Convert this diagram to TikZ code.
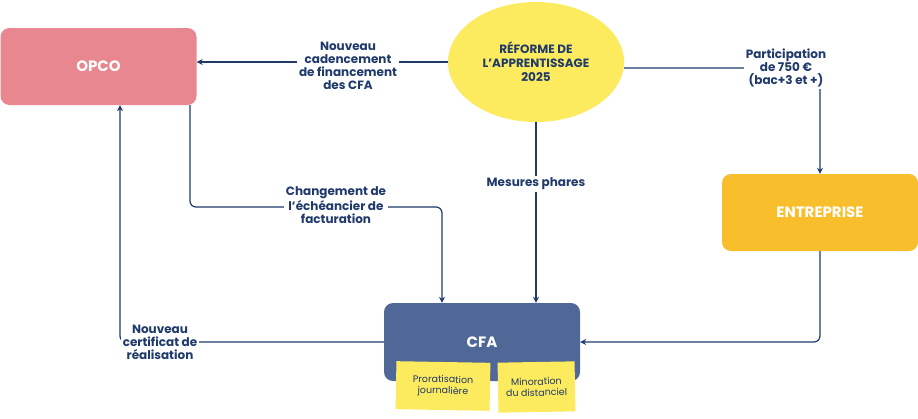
\documentclass[tikz,border=0pt]{standalone}
\usepackage{fontspec}
\setmainfont{Poppins}
\usetikzlibrary{shapes.geometric,arrows.meta}
\definecolor{navy}{HTML}{1F3A6B}
\definecolor{pinkc}{HTML}{E8878F}
\definecolor{yel}{HTML}{FDEB5F}
\definecolor{orng}{HTML}{F9BE2C}
\definecolor{cfab}{HTML}{4F6898}
\tikzset{
  box/.style={draw=none,rounded corners=9pt,minimum width=196pt,minimum height=77pt,text=white,font=\bfseries\fontsize{15}{18}\selectfont},
  lbl/.style={fill=white,text=navy,align=center,font=\bfseries\fontsize{12}{13}\selectfont,inner sep=2pt},
  con/.style={draw=navy,line width=1.2pt,-{Stealth[length=6pt,width=6pt]},rounded corners=6pt},
  note/.style={fill=yel,text=navy,align=center,font=\fontsize{9.5}{11}\selectfont,inner sep=2pt}
}
\begin{document}
\begin{tikzpicture}[x=1pt,y=-1pt]
\useasboundingbox (0,0) rectangle (918,418);
\node[box,fill=pinkc] (opco) at (98.5,66.5) {OPCO};
\node[box,fill=orng] (ent) at (820,212.5) {ENTREPRISE};
\node[box,fill=cfab,minimum width=196pt,minimum height=78pt] (cfa) at (482,342) {CFA};
\node[ellipse,fill=yel,minimum width=176pt,minimum height=120pt,text=navy,align=center,font=\bfseries\fontsize{12}{14}\selectfont,inner sep=0pt] (ref) at (536,62) {RÉFORME DE\\L’APPRENTISSAGE\\2025};
\node[note,minimum width=94pt,minimum height=48pt,rotate=-1] (n1) at (443,386) {Proratisation\\journalière};
\node[note,minimum width=77pt,minimum height=50pt,rotate=1] (n2) at (536.5,387) {Minoration\\du distanciel};
% connectors
\draw[con] (ref.west) -- (opco.east |- ref.west);
\node[lbl] (l1) at (348,66) {Nouveau\\cadencement\\de financement\\des CFA};
\coordinate (c1) at (820,68);
\draw[con] (ref.east |- c1) -- (c1) -- (ent.north);
\node[lbl] (l2) at (786,68) {Participation\\de 750 €\\(bac+3 et +)};
\draw[con] (ref.south) -- (ref.south |- cfa.north);
\node[lbl] (l3) at (536,184) {Mesures phares};
\coordinate (c2) at (190,207);
\coordinate (c3) at (442,207);
\draw[con] (opco.south -| c2) -- (c2) -- (c3) -- (c3 |- cfa.north);
\node[lbl] (l4) at (336,205) {Changement de\\l’échéancier de\\facturation};
\coordinate (c4) at (820,342);
\draw[con] (ent.south) -- (c4) -- (cfa.east);
\coordinate (c5) at (120,342);
\draw[con] (cfa.west) -- (c5) -- (c5 |- opco.south);
\node[lbl] (l5) at (160,342) {Nouveau\\certificat de\\réalisation};
\end{tikzpicture}
\end{document}
